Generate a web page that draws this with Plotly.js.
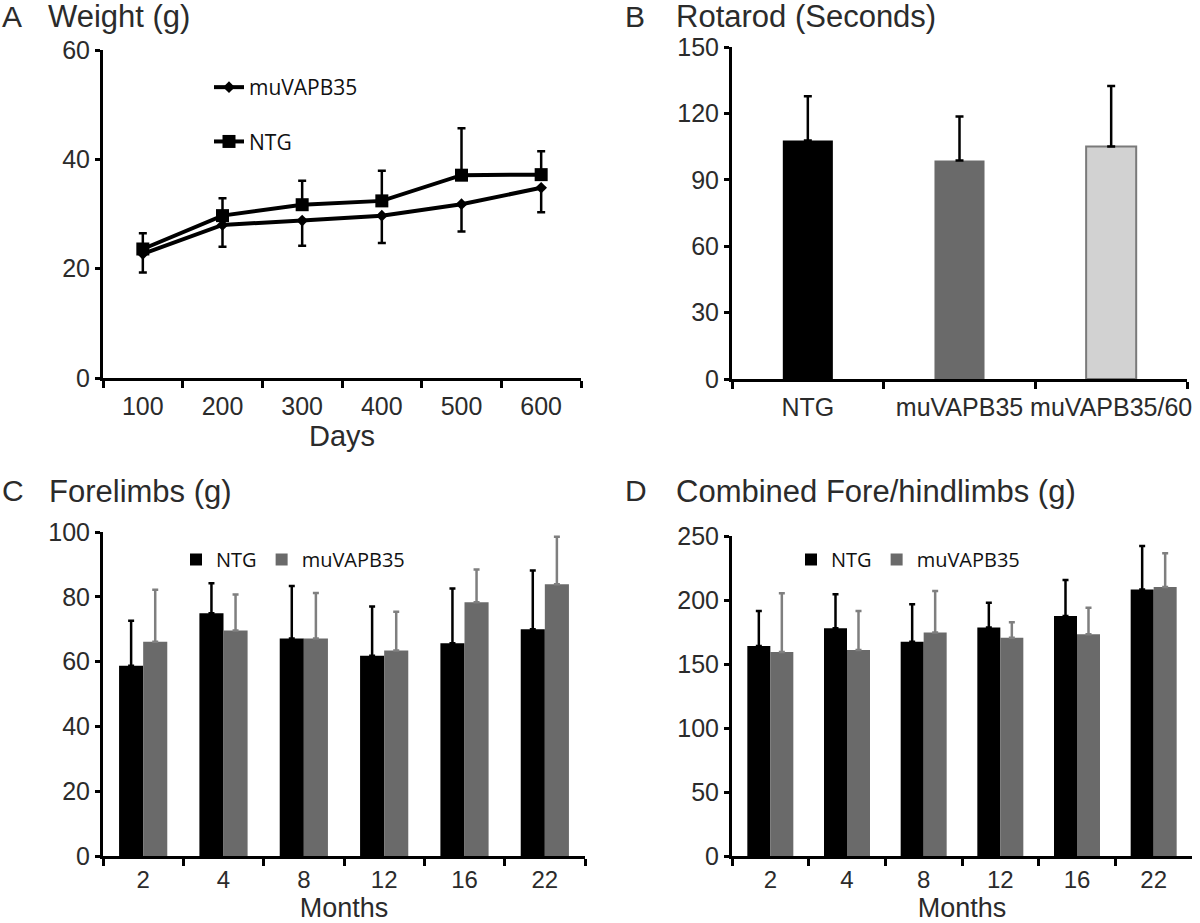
<!DOCTYPE html>
<html>
<head>
<meta charset="utf-8">
<script src="https://cdn.plot.ly/plotly-3.0.1.min.js"></script>
<style>html,body{margin:0;padding:0;background:#fff;}#chart{width:1200px;height:923px;}</style>
</head>
<body>
<div id="chart"></div>
<script>
// ---------- Data ----------
const dayCats = ['100', '200', '300', '400', '500', '600'];
const weightNTG = [23.6, 29.7, 31.7, 32.4, 37.1, 37.2];
const weightNTGErrUp = [2.9, 3.2, 4.4, 5.5, 8.6, 4.3];
const weightMu = [22.7, 28.0, 28.8, 29.7, 31.8, 34.8];
const weightMuErrDown = [3.4, 4.0, 4.6, 5.0, 5.0, 4.5];

const rotarodCats = ['NTG', 'muVAPB35', 'muVAPB35/60'];
const rotarodMean = [107.8, 98.7, 105.1];
const rotarodErr = [19.9, 19.9, 27.3];

const monthCats = ['2', '4', '8', '12', '16', '22'];
const foreNTG = [58.7, 74.9, 67.1, 61.8, 65.7, 70.0];
const foreNTGErr = [13.9, 9.3, 16.2, 15.2, 16.9, 18.1];
const foreMu = [66.1, 69.6, 67.1, 63.4, 78.3, 83.9];
const foreMuErr = [16.1, 11.1, 14.1, 12.0, 10.1, 14.6];

const combNTG = [164.1, 177.9, 167.4, 178.6, 187.5, 208.3];
const combNTGErr = [27.3, 26.5, 29.2, 19.3, 28.1, 33.9];
const combMu = [159.4, 160.9, 174.7, 170.6, 173.2, 210.2];
const combMuErr = [45.8, 30.5, 32.3, 12.0, 20.8, 26.3];

// ---------- Helpers ----------
const W = 1200, H = 923;
const px = v => v / W;
const py = v => 1 - v / H;
const zeros = arr => arr.map(() => 0);

const TXT = '#2b2b2b';
const BLACK = '#000000';
const GREY = '#6a6a6a';
const GREY_ERR = '#7f7f7f';
const LIGHT = '#d2d2d2';
const SANS = 'Liberation Sans, Arial, sans-serif';
const AX_FONT = {family: SANS, size: 25, color: TXT};
const LEG_FONT = 'Open Sans, sans-serif';

function xAxis(domain, anchor, nCats, titleText, opts) {
  const ax = {
    domain: domain, anchor: anchor, type: 'category', range: [-0.5, nCats - 0.5],
    tickson: 'boundaries', ticks: 'outside', ticklen: 7, tickwidth: 3, tickcolor: BLACK,
    showline: true, linewidth: 3, linecolor: BLACK, showgrid: false, zeroline: false,
    tickangle: 0, ticklabelstandoff: opts.standoff,
    tickfont: {family: SANS, size: opts.tickSize, color: TXT}, automargin: false, fixedrange: true
  };
  if (titleText) ax.title = {text: titleText, font: {family: SANS, size: opts.titleSize, color: TXT}, standoff: 0};
  return ax;
}
function yAxis(domain, anchor, maxV, step) {
  return {
    domain: domain, anchor: anchor, range: [0, maxV], dtick: step, tick0: 0,
    ticks: 'outside', ticklen: 5, tickwidth: 3, tickcolor: BLACK,
    showline: true, linewidth: 3, linecolor: BLACK, showgrid: false, zeroline: false,
    tickfont: AX_FONT, automargin: false, fixedrange: true
  };
}

// ---------- Traces ----------
const traces = [
  // Panel A
  {
    type: 'scatter', mode: 'lines+markers', name: 'muVAPB35',
    x: dayCats, y: weightMu, xaxis: 'x', yaxis: 'y',
    line: {color: BLACK, width: 4},
    marker: {symbol: 'diamond', size: 9, color: BLACK},
    error_y: {type: 'data', symmetric: false, array: zeros(weightMu), arrayminus: weightMuErrDown,
              color: BLACK, thickness: 2.5, width: 4},
    legend: 'legend', legendgroup: 'mu', hoverinfo: 'skip'
  },
  {
    type: 'scatter', mode: 'lines+markers', name: 'NTG',
    x: dayCats, y: weightNTG, xaxis: 'x', yaxis: 'y',
    line: {color: BLACK, width: 4},
    marker: {symbol: 'square', size: 13, color: BLACK},
    error_y: {type: 'data', symmetric: false, array: weightNTGErrUp, arrayminus: zeros(weightNTG),
              color: BLACK, thickness: 2.5, width: 4},
    legend: 'legend', legendgroup: 'ntg', hoverinfo: 'skip'
  },
  // Panel B
  {
    type: 'bar', name: 'Rotarod', x: rotarodCats, y: rotarodMean, xaxis: 'x2', yaxis: 'y2',
    width: 0.33, showlegend: false,
    marker: {color: [BLACK, GREY, LIGHT], line: {color: [BLACK, GREY, '#7a7a7a'], width: [0, 0, 2]}},
    error_y: {type: 'data', symmetric: false, array: rotarodErr, arrayminus: zeros(rotarodErr),
              color: BLACK, thickness: 2.5, width: 4},
    hoverinfo: 'skip'
  },
  // Panel C
  {
    type: 'bar', name: 'NTG', x: monthCats, y: foreNTG, xaxis: 'x3', yaxis: 'y3',
    marker: {color: BLACK},
    error_y: {type: 'data', symmetric: false, array: foreNTGErr, arrayminus: zeros(foreNTG),
              color: BLACK, thickness: 2.5, width: 3},
    legend: 'legend2', hoverinfo: 'skip'
  },
  {
    type: 'bar', name: 'muVAPB35', x: monthCats, y: foreMu, xaxis: 'x3', yaxis: 'y3',
    marker: {color: GREY},
    error_y: {type: 'data', symmetric: false, array: foreMuErr, arrayminus: zeros(foreMu),
              color: GREY_ERR, thickness: 2.5, width: 3},
    legend: 'legend2', hoverinfo: 'skip'
  },
  // Panel D
  {
    type: 'bar', name: 'NTG', x: monthCats, y: combNTG, xaxis: 'x4', yaxis: 'y4',
    marker: {color: BLACK},
    error_y: {type: 'data', symmetric: false, array: combNTGErr, arrayminus: zeros(combNTG),
              color: BLACK, thickness: 2.5, width: 3},
    legend: 'legend3', hoverinfo: 'skip'
  },
  {
    type: 'bar', name: 'muVAPB35', x: monthCats, y: combMu, xaxis: 'x4', yaxis: 'y4',
    marker: {color: GREY},
    error_y: {type: 'data', symmetric: false, array: combMuErr, arrayminus: zeros(combMu),
              color: GREY_ERR, thickness: 2.5, width: 3},
    legend: 'legend3', hoverinfo: 'skip'
  }
];

// ---------- Layout ----------
const titleFont = {family: SANS, size: 31, color: TXT};
const letterFont = {family: SANS, size: 30, color: TXT};
function ann(text, x, y, font) {
  return {text: text, x: px(x), y: py(y), xref: 'paper', yref: 'paper',
          xanchor: 'left', yanchor: 'middle', showarrow: false, font: font};
}
const topOpts = {standoff: 4, tickSize: 25, titleSize: 29};
const botOpts = {standoff: 0, tickSize: 24, titleSize: 27};

const layout = {
  width: W, height: H,
  margin: {l: 0, r: 0, t: 0, b: 0},
  paper_bgcolor: '#ffffff', plot_bgcolor: 'rgba(0,0,0,0)',
  barmode: 'group', bargap: 0.4, bargroupgap: 0,
  showlegend: true,
  xaxis: xAxis([px(103), px(581)], 'y', 6, 'Days', topOpts),
  yaxis: yAxis([py(378), py(50)], 'x', 60, 20),
  xaxis2: xAxis([px(732), px(1187)], 'y2', 3, null, topOpts),
  yaxis2: yAxis([py(379), py(47)], 'x2', 150, 30),
  xaxis3: xAxis([px(103), px(585)], 'y3', 6, 'Months', botOpts),
  yaxis3: yAxis([py(856), py(532)], 'x3', 100, 20),
  xaxis4: xAxis([px(732), px(1192)], 'y4', 6, 'Months', botOpts),
  yaxis4: yAxis([py(856), py(536)], 'x4', 250, 50),
  legend: {
    x: px(209), y: py(67), xanchor: 'left', yanchor: 'top',
    bgcolor: 'rgba(0,0,0,0)', borderwidth: 0,
    font: {family: LEG_FONT, size: 21, color: '#111'},
    traceorder: 'grouped', tracegroupgap: 24
  },
  legend2: {
    orientation: 'h', x: px(176), y: py(540), xanchor: 'left', yanchor: 'top',
    bgcolor: 'rgba(0,0,0,0)', borderwidth: 0,
    font: {family: LEG_FONT, size: 20, color: '#111'}
  },
  legend3: {
    orientation: 'h', x: px(791), y: py(540), xanchor: 'left', yanchor: 'top',
    bgcolor: 'rgba(0,0,0,0)', borderwidth: 0,
    font: {family: LEG_FONT, size: 20, color: '#111'}
  },
  annotations: [
    ann('A', 0, 16, letterFont),
    ann('Weight (g)', 46, 16, titleFont),
    ann('B', 623, 16, letterFont),
    ann('Rotarod (Seconds)', 674, 16, titleFont),
    ann('C', 0, 490, letterFont),
    ann('Forelimbs (g)', 47, 491, titleFont),
    ann('D', 623, 490, letterFont),
    ann('Combined Fore/hindlimbs (g)', 674, 491, titleFont)
  ]
};

Plotly.newPlot('chart', traces, layout, {staticPlot: true, displayModeBar: false});
</script>
</body>
</html>
